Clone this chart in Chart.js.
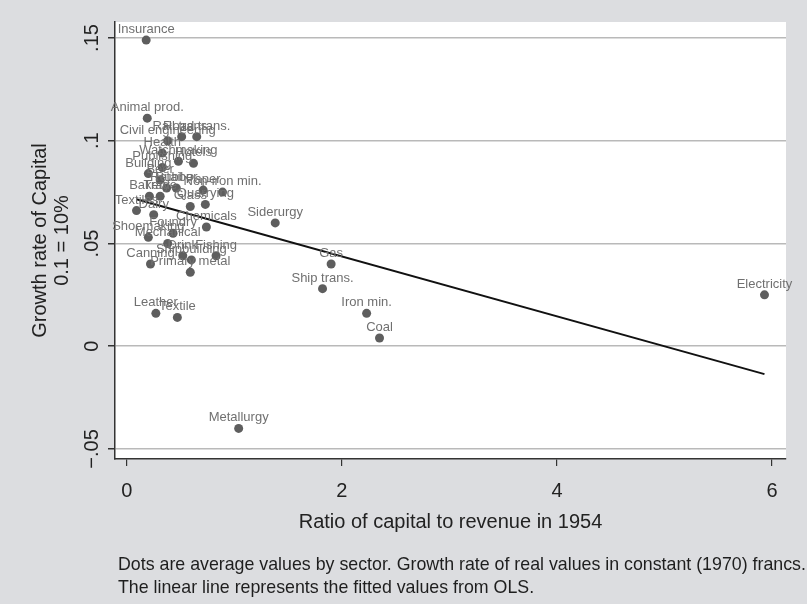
<!DOCTYPE html>
<html>
<head>
<meta charset="utf-8">
<script src="https://cdn.jsdelivr.net/npm/chart.js@4"></script>
<style>
  html, body { margin: 0; padding: 0; background: #dcdde0; }
</style>
</head>
<body>
<canvas id="growthChart" width="807" height="604"></canvas>
<script>
// Sector averages
const sectors = ['Insurance', 'Animal prod.', 'Rail trans.', 'Road trans.', 'Civil engineering', 'Health',
  'Watchmaking', 'Hotels', 'Publishing', 'Building', 'Beer', 'Retail', 'Rubber', 'Bakery', 'Trade',
  'Paper', 'Non-iron min.', 'Glass', 'Quarrying', 'Textiles', 'Dairy', 'Chemicals', 'Siderurgy',
  'Shoemaking', 'Foundry', 'Mechanical', 'Drink', 'Shipbuilding', 'Fishing', 'Canning', 'Primary metal',
  'Gas', 'Ship trans.', 'Iron min.', 'Coal', 'Electricity', 'Leather', 'Textile', 'Metallurgy'];
const capitalRatio = [0.18, 0.19, 0.51, 0.65, 0.38, 0.33,
  0.48, 0.62, 0.33, 0.20, 0.31, 0.37, 0.46, 0.21, 0.31,
  0.71, 0.89, 0.59, 0.73, 0.09, 0.25, 0.74, 1.38,
  0.20, 0.43, 0.38, 0.52, 0.60, 0.83, 0.22, 0.59,
  1.90, 1.82, 2.23, 2.35, 5.93, 0.27, 0.47, 1.04];
const growthRate = [0.149, 0.111, 0.102, 0.102, 0.100, 0.094,
  0.090, 0.089, 0.087, 0.084, 0.081, 0.077, 0.077, 0.073, 0.073,
  0.076, 0.075, 0.068, 0.069, 0.066, 0.064, 0.058, 0.060,
  0.053, 0.055, 0.050, 0.044, 0.042, 0.044, 0.040, 0.036,
  0.040, 0.028, 0.016, 0.004, 0.025, 0.016, 0.014, -0.040];

// OLS fitted values at the two ends of the data
const fitRatio = [0.09, 5.93];
const fitGrowth = [0.0715, -0.0136];

const xTicks = [0, 2, 4, 6];
const yTicks = [-0.05, 0, 0.05, 0.1, 0.15];
const yTickLabels = ['\u2212.05', '0', '.05', '.1', '.15'];

const notes = [
  'Dots are average values by sector. Growth rate of real values in constant (1970) francs.',
  'The linear line represents the fitted values from OLS.'
];

const FONT = '"Liberation Sans", Arial, sans-serif';

const background = {
  id: 'background',
  beforeDraw(chart) {
    const { ctx, chartArea: a } = chart;
    ctx.save();
    ctx.fillStyle = '#dcdde0';
    ctx.fillRect(0, 0, chart.width, chart.height);
    ctx.fillStyle = '#ffffff';
    ctx.fillRect(a.left, a.top, a.right - a.left, a.bottom - a.top);
    ctx.restore();
  }
};

// sector names above each dot
const pointLabels = {
  id: 'pointLabels',
  afterDatasetsDraw(chart) {
    const { ctx } = chart;
    const meta = chart.getDatasetMeta(1);
    ctx.save();
    ctx.font = '13px ' + FONT;
    ctx.fillStyle = '#707070';
    ctx.textAlign = 'center';
    ctx.textBaseline = 'alphabetic';
    meta.data.forEach((pt, i) => ctx.fillText(sectors[i], pt.x, pt.y - 7));
    ctx.restore();
  }
};

const footnote = {
  id: 'footnote',
  afterDraw(chart) {
    const { ctx } = chart;
    ctx.save();
    ctx.font = '17.8px ' + FONT;
    ctx.fillStyle = '#1e1e1e';
    ctx.textAlign = 'left';
    ctx.textBaseline = 'middle';
    notes.forEach((t, i) => ctx.fillText(t, 118, 565 + i * 23));
    ctx.restore();
  }
};

new Chart(document.getElementById('growthChart'), {
  type: 'scatter',
  data: {
    datasets: [{
      label: 'Fitted values',
      data: fitRatio.map((x, i) => ({ x: x, y: fitGrowth[i] })),
      showLine: true,
      borderColor: '#111111',
      borderWidth: 2,
      pointRadius: 0,
      order: 0
    }, {
      label: 'Sectors',
      data: capitalRatio.map((x, i) => ({ x: x, y: growthRate[i] })),
      backgroundColor: '#5e5e5e',
      borderWidth: 0,
      pointRadius: 4.5,
      order: 1
    }]
  },
  options: {
    responsive: false,
    animation: false,
    layout: { padding: { left: 0, top: 22, right: 21, bottom: 70 } },
    plugins: { legend: { display: false }, tooltip: { enabled: false } },
    scales: {
      x: {
        type: 'linear',
        min: -0.11,
        max: 6.13,
        afterBuildTicks: s => { s.ticks = xTicks.map(v => ({ value: v })); },
        afterFit: s => { s.height = 75; },
        ticks: { color: '#222', font: { family: FONT, size: 20 }, padding: 13, maxRotation: 0 },
        grid: { drawOnChartArea: false, tickLength: 7, color: '#333', lineWidth: 1.2 },
        border: { color: '#333', width: 1.5 },
        title: {
          display: true,
          text: 'Ratio of capital to revenue in 1954',
          color: '#222',
          font: { family: FONT, size: 20 },
          padding: { top: 0, bottom: 0 }
        }
      },
      y: {
        type: 'linear',
        min: -0.0549,
        max: 0.1578,
        afterBuildTicks: s => { s.ticks = yTicks.map(v => ({ value: v })); },
        afterFit: s => { s.width = 115; },
        ticks: {
          color: '#222',
          font: { family: FONT, size: 20 },
          minRotation: 90,
          maxRotation: 90,
          crossAlign: 'center',
          padding: -4,
          callback: v => yTickLabels[yTicks.indexOf(v)]
        },
        grid: { color: '#b9b9b9', lineWidth: 1.5, tickColor: '#333', tickLength: 7 },
        border: { color: '#333', width: 1.5 },
        title: {
          display: true,
          text: ['Growth rate of Capital', '0.1 = 10%'],
          color: '#222',
          font: { family: FONT, size: 20, lineHeight: 1.1 },
          padding: { top: 29, bottom: 0 }
        }
      }
    }
  },
  plugins: [background, pointLabels, footnote]
});
</script>
</body>
</html>
